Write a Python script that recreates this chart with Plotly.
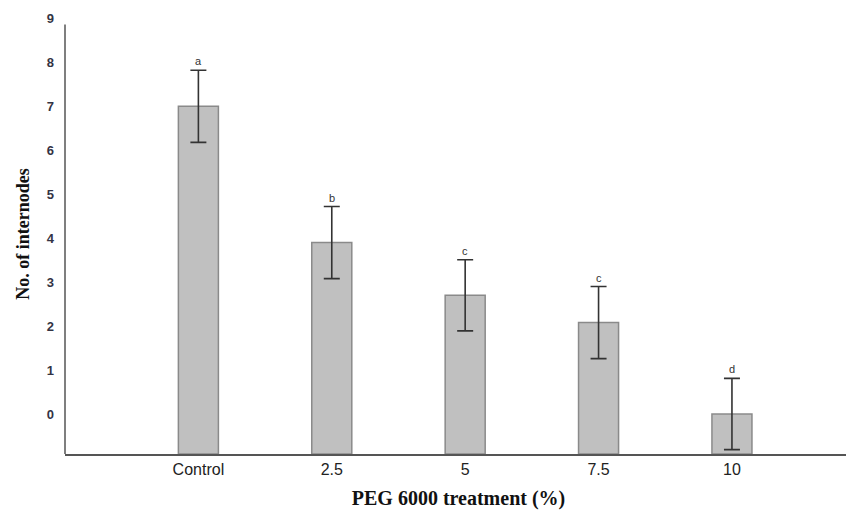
import plotly.graph_objects as go

categories = ["Control", "2.5", "5", "7.5", "10"]
means = [7.0, 3.9, 2.7, 2.08, 0.0]
errors = [0.82, 0.82, 0.81, 0.82, 0.81]
letters = ["a", "b", "c", "c", "d"]
y_ticks = [0, 1, 2, 3, 4, 5, 6, 7, 8, 9]

Y_MIN = -0.91
Y_MAX = 9.1
Y_AXIS_TOP = 8.86

x_idx = list(range(len(categories)))

fig = go.Figure()
fig.add_trace(go.Bar(
    x=x_idx,
    y=[m - Y_MIN for m in means],
    base=Y_MIN,
    width=0.3,
    marker=dict(color="#c0c0c0", line=dict(color="#8a8a8a", width=1.5)),
    error_y=dict(type="data", array=errors, arrayminus=errors, symmetric=False,
                 color="#333333", thickness=1.6, width=8),
    hoverinfo="skip",
))

for i, (m, e, l) in enumerate(zip(means, errors, letters)):
    fig.add_annotation(x=i, y=m + e, text=l, showarrow=False, yanchor="bottom",
                       yshift=1, font=dict(family="Arial", size=11, color="#333333"))

# y axis line (stops below the top tick label, as in the reference)
fig.add_shape(type="line", xref="paper", yref="y", x0=0, x1=0, y0=Y_MIN, y1=Y_AXIS_TOP,
              line=dict(color="#555555", width=1.5))

fig.update_layout(
    width=846, height=502,
    margin=dict(l=57, r=2, t=5.6, b=56),
    plot_bgcolor="white", paper_bgcolor="white",
    showlegend=False,
    xaxis=dict(
        range=[-1.0, 4.9],
        tickvals=x_idx, ticktext=categories,
        showline=True, linecolor="#555555", linewidth=1.5,
        showgrid=False, zeroline=False, ticks="",
        automargin=False,
        tickfont=dict(family="Arial", size=16, color="#222222"),
        title=dict(text="<b>PEG 6000 treatment (%)</b>", standoff=15,
                   font=dict(family="Liberation Serif", size=20, color="#111111")),
    ),
    yaxis=dict(
        range=[Y_MIN, Y_MAX],
        tickvals=y_ticks, ticktext=["<b>%d</b>" % t for t in y_ticks],
        showline=False,
        showgrid=False, zeroline=False, ticks="",
        automargin=False,
        ticklabelstandoff=10,
        tickfont=dict(family="Arial", size=13, color="#333344"),
        title=dict(text="<b>No. of internodes</b>", standoff=12,
                   font=dict(family="Liberation Serif", size=18, color="#111111")),
    ),
)

fig.write_html("out.html")
